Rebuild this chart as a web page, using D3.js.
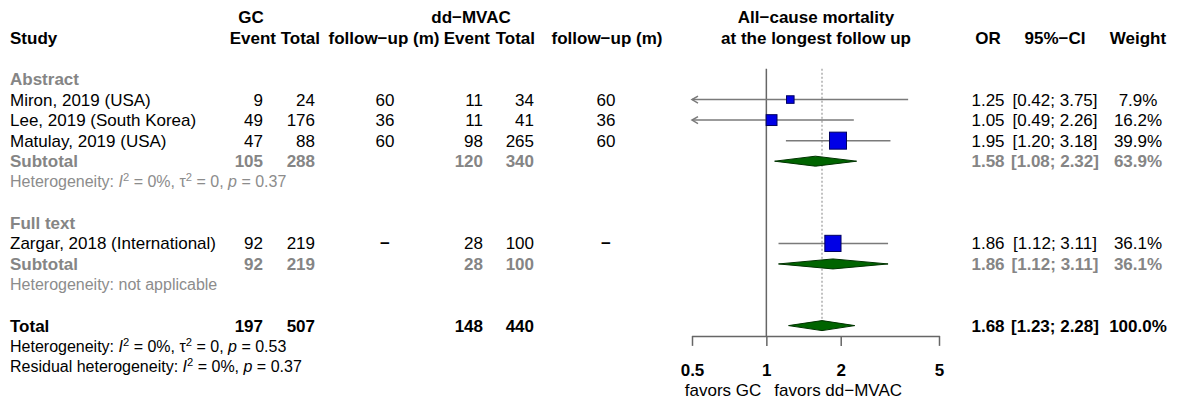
<!DOCTYPE html>
<html lang="en">
<head>
<meta charset="utf-8">
<title>Forest plot</title>
<script src="https://cdn.jsdelivr.net/npm/d3@7"></script>
<style>
  body { margin: 0; background: #fff; }
  svg { display: block; font-family: "Liberation Sans", Arial, sans-serif; }
</style>
</head>
<body>
<svg width="1179" height="401"></svg>
<script>

// study rows
const studies = ["Miron, 2019 (USA)", "Lee, 2019 (South Korea)", "Matulay, 2019 (USA)", "Zargar, 2018 (International)"];
const gcEvent = [9, 49, 47, 92];
const gcTotal = [24, 176, 88, 219];
const gcFollow = ["60", "36", "60", "\u2212"];
const ddEvent = [11, 11, 98, 28];
const ddTotal = [34, 41, 265, 100];
const ddFollow = ["60", "36", "60", "\u2212"];
const studyOR = [1.25, 1.05, 1.95, 1.86];
const studyLow = [0.42, 0.49, 1.20, 1.12];
const studyHigh = [3.75, 2.26, 3.18, 3.11];
const studyWeight = [7.9, 16.2, 39.9, 36.1];

// subgroups
const groups = ["Abstract", "Full text"];
const subGcEvent = [105, 92];
const subGcTotal = [288, 219];
const subDdEvent = [120, 28];
const subDdTotal = [340, 100];
const subOR = [1.58, 1.86];
const subLow = [1.08, 1.12];
const subHigh = [2.32, 3.11];
const subWeight = [63.9, 36.1];
const subHet = [
  [["Heterogeneity: "], ["I", "i"], ["2", "s"], [" = 0%, "], ["\u03c4"], ["2", "s"], [" = 0, "], ["p", "i"], [" = 0.37"]],
  [["Heterogeneity: not applicable"]]
];

// overall
const totalCounts = [197, 507, 148, 440];
const totalOR = [1.68, 1.23, 2.28];
const totalWeight = 100.0;
const totalHet = [["Heterogeneity: "], ["I", "i"], ["2", "s"], [" = 0%, "], ["\u03c4"], ["2", "s"], [" = 0, "], ["p", "i"], [" = 0.53"]];
const residHet = [["Residual heterogeneity: "], ["I", "i"], ["2", "s"], [" = 0%, "], ["p", "i"], [" = 0.37"]];

const ticks = [0.5, 1, 2, 5];

const svg = d3.select("svg");
const gray = "#858585";
const lineGray = "#7a7a7a";

const x = d3.scaleLog().domain([0.5, 5]).range([692, 939]);
const rowY = d3.scaleLinear().domain([0, 1]).range([79, 99.55]);
const boxSize = d3.scaleSqrt().domain([0, 39.9]).range([0, 17]);
const f2 = d3.format(".2f");
const f1 = d3.format(".1f");

// columns: position and anchor
const col = {
  study: [10, "start"],
  gcE: [263, "end"],
  gcT: [315, "end"],
  gcF: [385, "middle"],
  ddE: [483, "end"],
  ddT: [534, "end"],
  ddF: [606, "middle"],
  or: [988, "middle"],
  ci: [1055, "middle"],
  w: [1138, "middle"]
};

function txt(c, y, s, opts) {
  opts = opts || {};
  return svg.append("text")
    .attr("x", col[c][0]).attr("y", y).attr("dy", "0.35em")
    .attr("text-anchor", col[c][1])
    .attr("font-size", opts.size || 17)
    .attr("font-weight", opts.bold ? "bold" : "normal")
    .attr("fill", opts.color || "#000")
    .text(s);
}

function hetText(y, parts, color, size) {
  const t = svg.append("text").attr("x", 10).attr("y", y).attr("dy", "0.35em")
    .attr("font-size", size).attr("fill", color);
  let up = false;
  parts.forEach(function(p) {
    const sp = t.append("tspan").text(p[0]);
    if (p[1] === "i") sp.attr("font-style", "italic");
    if (p[1] === "s") { sp.attr("font-size", size * 0.7).attr("dy", -6); up = true; }
    else if (up) { sp.attr("dy", 6); up = false; }
  });
}

// header
const hY1 = rowY(-3), hY2 = rowY(-2);
txt("study", hY2, "Study", {bold: true});
svg.append("text").attr("x", 251).attr("y", hY1).attr("dy", "0.35em").attr("text-anchor", "middle")
  .attr("font-size", 17).attr("font-weight", "bold").text("GC");
svg.append("text").attr("x", 471).attr("y", hY1).attr("dy", "0.35em").attr("text-anchor", "middle")
  .attr("font-size", 17).attr("font-weight", "bold").text("dd\u2212MVAC");
[["gcE", "Event", 276], ["gcT", "Total", 320], ["gcF", "follow\u2212up (m)", 384], ["ddE", "Event", 490], ["ddT", "Total", 535], ["ddF", "follow\u2212up (m)", 607]]
  .forEach(function(h) {
    svg.append("text").attr("x", h[2]).attr("y", hY2).attr("dy", "0.35em")
      .attr("text-anchor", col[h[0]][1]).attr("font-size", 17).attr("font-weight", "bold").text(h[1]);
  });
svg.append("text").attr("x", 816).attr("y", hY1).attr("dy", "0.35em").attr("text-anchor", "middle")
  .attr("font-size", 17).attr("font-weight", "bold").text("All\u2212cause mortality");
svg.append("text").attr("x", 816).attr("y", hY2).attr("dy", "0.35em").attr("text-anchor", "middle")
  .attr("font-size", 17).attr("font-weight", "bold").text("at the longest follow up");
txt("or", hY2, "OR", {bold: true});
txt("ci", hY2, "95%\u2212CI", {bold: true});
txt("w", hY2, "Weight", {bold: true});

// row indices
const groupRow = [0, 7];
const studyRow = [1, 2, 3, 8];
const subRow = [4, 9];
const totalRow = 12;

// reference lines
svg.append("line").attr("x1", x(1)).attr("x2", x(1)).attr("y1", rowY(-0.5)).attr("y2", rowY(12.5))
  .attr("stroke", "#666").attr("stroke-width", 1.5);
svg.append("line").attr("x1", x(totalOR[0])).attr("x2", x(totalOR[0])).attr("y1", rowY(-0.5)).attr("y2", rowY(12.3))
  .attr("stroke", "#999").attr("stroke-width", 1.2).attr("stroke-dasharray", "2,2");

// group labels
groups.forEach(function(g, i) {
  txt("study", rowY(groupRow[i]), g, {bold: true, color: gray});
});

// studies
studies.forEach(function(s, i) {
  const y = rowY(studyRow[i]);
  txt("study", y, s);
  txt("gcE", y, gcEvent[i]);
  txt("gcT", y, gcTotal[i]);
  txt("gcF", y, gcFollow[i], {bold: gcFollow[i] === "\u2212"});
  txt("ddE", y, ddEvent[i]);
  txt("ddT", y, ddTotal[i]);
  txt("ddF", y, ddFollow[i], {bold: ddFollow[i] === "\u2212"});
  txt("or", y, f2(studyOR[i]));
  txt("ci", y, "[" + f2(studyLow[i]) + "; " + f2(studyHigh[i]) + "]");
  txt("w", y, f1(studyWeight[i]) + "%");

  const lo = Math.max(studyLow[i], x.domain()[0]);
  const hi = Math.min(studyHigh[i], x.domain()[1]);
  svg.append("line").attr("x1", x(lo)).attr("x2", x(hi)).attr("y1", y).attr("y2", y)
    .attr("stroke", lineGray).attr("stroke-width", 1.5);
  if (studyLow[i] < x.domain()[0]) {
    const ax = x(lo);
    svg.append("path").attr("d", "M" + (ax + 6) + "," + (y - 3.5) + "L" + ax + "," + y + "L" + (ax + 6) + "," + (y + 3.5))
      .attr("fill", "none").attr("stroke", lineGray).attr("stroke-width", 1.5);
  }
  const b = boxSize(studyWeight[i]);
  svg.append("rect").attr("x", x(studyOR[i]) - b / 2).attr("y", y - b / 2)
    .attr("width", b).attr("height", b)
    .attr("fill", "#0000e6").attr("stroke", "#000060").attr("stroke-width", 1);
});

function diamond(y, v, h) {
  return "M" + x(v[1]) + "," + y + "L" + x(v[0]) + "," + (y - h) + "L" + x(v[2]) + "," + y + "L" + x(v[0]) + "," + (y + h) + "Z";
}

// subtotals
groups.forEach(function(g, i) {
  const y = rowY(subRow[i]);
  const o = {bold: true, color: gray};
  txt("study", y, "Subtotal", o);
  txt("gcE", y, subGcEvent[i], o);
  txt("gcT", y, subGcTotal[i], o);
  txt("ddE", y, subDdEvent[i], o);
  txt("ddT", y, subDdTotal[i], o);
  txt("or", y, f2(subOR[i]), o);
  txt("ci", y, "[" + f2(subLow[i]) + "; " + f2(subHigh[i]) + "]", o);
  txt("w", y, f1(subWeight[i]) + "%", o);
  svg.append("path").attr("d", diamond(y, [subOR[i], subLow[i], subHigh[i]], 5))
    .attr("fill", "#006400").attr("stroke", "#003300").attr("stroke-width", 1);
  hetText(rowY(subRow[i] + 1), subHet[i], "#8c8c8c", 16);
});

// total
const ty = rowY(totalRow);
txt("study", ty, "Total", {bold: true});
["gcE", "gcT", "ddE", "ddT"].forEach(function(c, i) { txt(c, ty, totalCounts[i], {bold: true}); });
txt("or", ty, f2(totalOR[0]), {bold: true});
txt("ci", ty, "[" + f2(totalOR[1]) + "; " + f2(totalOR[2]) + "]", {bold: true});
txt("w", ty, f1(totalWeight) + "%", {bold: true});
svg.append("path").attr("d", diamond(ty, totalOR, 5))
  .attr("fill", "#006400").attr("stroke", "#003300").attr("stroke-width", 1);
hetText(rowY(13), totalHet, "#000", 16);
hetText(rowY(14), residHet, "#000", 16);

// axis
const axisY = rowY(12.5);
const axis = svg.append("g").attr("transform", "translate(0," + axisY + ")")
  .call(d3.axisBottom(x).tickValues(ticks).tickFormat(d3.format("")).tickSize(10).tickSizeOuter(0).tickPadding(18));
axis.select(".domain").attr("stroke", "#666").attr("stroke-width", 1.5);
axis.selectAll(".tick line").attr("stroke", "#666").attr("stroke-width", 1.5);
axis.selectAll(".tick text").attr("font-size", 17).attr("font-weight", "bold").attr("fill", "#000")
  .attr("font-family", "Liberation Sans, Arial, sans-serif");

svg.append("text").attr("x", x(1) - 5).attr("y", 390).attr("dy", "0.35em").attr("text-anchor", "end")
  .attr("font-size", 17).text("favors GC");
svg.append("text").attr("x", x(1) + 8).attr("y", 390).attr("dy", "0.35em").attr("text-anchor", "start")
  .attr("font-size", 17).text("favors dd\u2212MVAC");

</script>
</body>
</html>
